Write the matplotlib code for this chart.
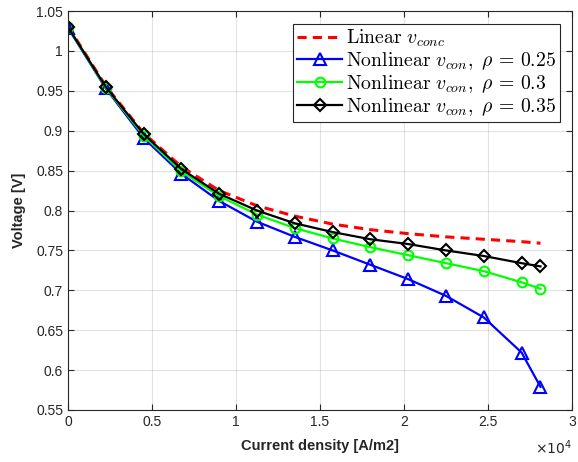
import matplotlib
matplotlib.use("Agg")
import matplotlib.pyplot as plt
from matplotlib.ticker import FuncFormatter

plt.rcParams["font.family"] = ["Liberation Sans", "DejaVu Sans"]
plt.rcParams["mathtext.fontset"] = "cm"

# current density [A/m2]
current = [0, 2250, 4500, 6750, 9000, 11250, 13500, 15750, 18000, 20250,
           22500, 24750, 27000, 28125]

v_linear = [1.031, 0.956, 0.897, 0.855, 0.825, 0.806, 0.793, 0.783, 0.776,
            0.771, 0.767, 0.764, 0.761, 0.759]
v_rho025 = [1.029, 0.953, 0.891, 0.846, 0.812, 0.786, 0.767, 0.750, 0.732,
            0.714, 0.693, 0.666, 0.622, 0.579]
v_rho030 = [1.030, 0.954, 0.894, 0.849, 0.818, 0.795, 0.778, 0.765, 0.754,
            0.744, 0.734, 0.724, 0.710, 0.702]
v_rho035 = [1.030, 0.955, 0.896, 0.852, 0.821, 0.800, 0.784, 0.773, 0.764,
            0.758, 0.750, 0.743, 0.734, 0.730]

labels = [r"$\mathrm{Linear}\ v_{conc}$",
          r"$\mathrm{Nonlinear}\ v_{con},\ \rho\,=\,0.25$",
          r"$\mathrm{Nonlinear}\ v_{con},\ \rho\,=\,0.3$",
          r"$\mathrm{Nonlinear}\ v_{con},\ \rho\,=\,0.35$"]

fig = plt.figure(figsize=(5.78, 4.62), dpi=100)
ax = fig.add_axes([0.1176, 0.1126, 0.872, 0.8634])

ax.plot(current, v_linear, "--", color=(1, 0, 0), lw=2.2, dashes=(3, 2),
        label=labels[0])
ax.plot(current, v_rho025, "-", color=(0, 0, 1), lw=1.6, marker="^", ms=8,
        mfc="none", mew=1.5, label=labels[1])
ax.plot(current, v_rho030, "-", color=(0, 1, 0), lw=1.6, marker="o", ms=7,
        mfc="none", mew=1.5, label=labels[2])
ax.plot(current, v_rho035, "-", color="black", lw=1.6, marker="D", ms=6,
        mfc="none", mew=1.5, label=labels[3])

ax.set_xlim(0, 30000)
ax.set_ylim(0.55, 1.05)
ax.set_xticks([0, 5000, 10000, 15000, 20000, 25000, 30000])
ax.set_yticks([0.55, 0.6, 0.65, 0.7, 0.75, 0.8, 0.85, 0.9, 0.95, 1.0, 1.05])
ax.xaxis.set_major_formatter(FuncFormatter(lambda v, p: f"{v / 1e4:g}"))
ax.yaxis.set_major_formatter(FuncFormatter(lambda v, p: f"{v:g}"))
ax.tick_params(direction="in", top=True, right=True, labelsize=10,
               colors="#262626", length=4)
for s in ax.spines.values():
    s.set_color("#262626")
    s.set_linewidth(0.8)
ax.grid(True, color="#262626", alpha=0.13, lw=0.8)

ax.set_xlabel("Current density [A/m2]", fontsize=10.5, fontweight="bold",
              color="#262626", labelpad=7)
ax.set_ylabel("Voltage [V]", fontsize=10.5, fontweight="bold",
              color="#262626", labelpad=7)
ax.text(1.0, -0.07, r"$\times10^{4}$", transform=ax.transAxes, ha="right",
        va="top", fontsize=10, color="#262626",
        math_fontfamily="dejavusans")

leg = ax.legend(loc="upper right", bbox_to_anchor=(0.977, 0.968), fontsize=14.2,
                handlelength=2.3, handletextpad=0.2, borderpad=0.2,
                labelspacing=0.05, borderaxespad=0, fancybox=False,
                framealpha=1, edgecolor="#262626")
leg.get_frame().set_linewidth(0.8)

fig.savefig("out.png", dpi=100)
